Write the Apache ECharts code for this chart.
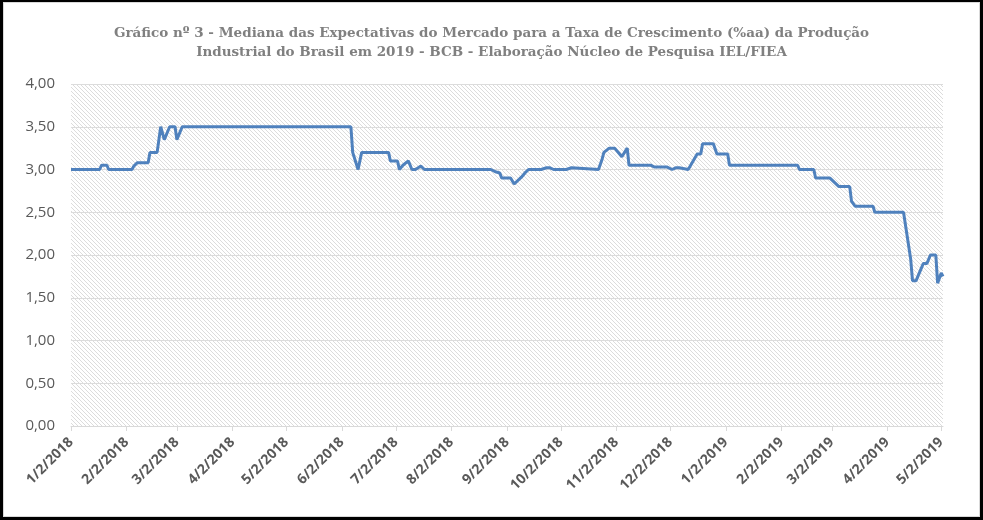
<!DOCTYPE html>
<html>
<head>
<meta charset="utf-8">
<script src="https://cdn.jsdelivr.net/npm/echarts@6/dist/echarts.min.js"></script>
<style>
  html, body { margin: 0; padding: 0; background: #fff; }
  #frame { position: absolute; left: 0; top: 0; width: 983px; height: 520px; background: #000; }
  #inner { position: absolute; left: 3px; top: 2px; width: 975px; height: 513px; background: #fff; border: 1px solid #d9d9d9; }
  #chart { position: absolute; left: 0; top: 0; width: 983px; height: 520px; }
</style>
</head>
<body>
<div id="frame"><div id="inner"></div></div>
<div id="chart"></div>
<script>
// ---- Data ----
const titleLines = [
  'Gráfico nº 3 - Mediana das Expectativas do Mercado para a Taxa de Crescimento (%aa) da Produção',
  'Industrial do Brasil em 2019 - BCB - Elaboração Núcleo de Pesquisa IEL/FIEA'
];
const tickLabels = ['1/2/2018','2/2/2018','3/2/2018','4/2/2018','5/2/2018','6/2/2018','7/2/2018','8/2/2018',
  '9/2/2018','10/2/2018','11/2/2018','12/2/2018','1/2/2019','2/2/2019','3/2/2019','4/2/2019','5/2/2019'];
const axisStart = '2018-01-02';
const axisEnd = '2019-05-03';
const dates = [
  '2018-01-02','2018-01-18','2018-01-19','2018-01-22','2018-01-23','2018-02-05','2018-02-06','2018-02-08',
  '2018-02-14','2018-02-15','2018-02-19','2018-02-21','2018-02-23','2018-02-26','2018-03-01','2018-03-02',
  '2018-03-05','2018-06-07','2018-06-08','2018-06-11','2018-06-13','2018-06-28','2018-06-29','2018-07-03',
  '2018-07-04','2018-07-06','2018-07-09','2018-07-11','2018-07-13','2018-07-16','2018-07-18','2018-08-24',
  '2018-08-27','2018-08-29','2018-08-30','2018-09-04','2018-09-06','2018-09-10','2018-09-12','2018-09-13',
  '2018-09-14','2018-09-21','2018-09-24','2018-09-26','2018-09-28','2018-10-05','2018-10-08','2018-10-09',
  '2018-10-23','2018-10-24','2018-10-25','2018-10-26','2018-10-29','2018-11-01','2018-11-05','2018-11-06',
  '2018-11-08','2018-11-09','2018-11-21','2018-11-23','2018-11-30','2018-12-03','2018-12-05','2018-12-07',
  '2018-12-12','2018-12-17','2018-12-19','2018-12-20','2018-12-26','2018-12-28','2019-01-03','2019-01-04',
  '2019-02-11','2019-02-12','2019-02-20','2019-02-21','2019-03-01','2019-03-06','2019-03-12','2019-03-13',
  '2019-03-15','2019-03-25','2019-03-26','2019-04-11','2019-04-15','2019-04-16','2019-04-18','2019-04-22',
  '2019-04-24','2019-04-26','2019-04-29','2019-04-30','2019-05-02','2019-05-03'
];
const values = [
  3.00,3.00,3.05,3.05,3.00,3.00,3.04,3.08,
  3.08,3.20,3.20,3.50,3.35,3.50,3.50,3.35,
  3.50,3.50,3.20,3.00,3.20,3.20,3.10,3.10,
  3.00,3.05,3.10,3.00,3.00,3.04,3.00,3.00,
  2.97,2.96,2.90,2.90,2.83,2.91,2.96,2.96,
  3.00,3.00,3.02,3.02,3.00,3.00,3.02,3.00,
  3.00,3.02,3.12,3.20,3.25,3.25,3.15,3.15,
  3.25,3.05,3.05,3.03,3.03,3.00,3.02,3.02,
  3.00,3.18,3.18,3.30,3.30,3.18,3.18,3.05,
  3.05,3.00,3.00,2.90,2.90,2.80,2.80,2.63,
  2.57,2.57,2.50,2.50,1.95,1.70,1.70,1.90,
  1.90,2.00,2.00,1.67,1.79,1.75
];

// ---- helpers ----
function isoToTs(s) { const p = s.split('-').map(Number); return Date.UTC(p[0], p[1]-1, p[2]); }
function mdyToTs(s) { const p = s.split('/').map(Number); return Date.UTC(p[2], p[0]-1, p[1]); }
const labelByTs = {};
tickLabels.forEach(l => { labelByTs[mdyToTs(l)] = l; });

const tickValues = tickLabels.map(mdyToTs);
const seriesData = dates.map((d, i) => [isoToTs(d), values[i]]);

// hatch pattern (light downward diagonal)
const pc = document.createElement('canvas');
pc.width = 8; pc.height = 8;
const g = pc.getContext('2d');
g.fillStyle = '#ffffff'; g.fillRect(0, 0, 8, 8);
g.fillStyle = '#dcdcdc';
for (let i = 0; i < 8; i++) { g.fillRect(i, i, 1, 1); g.fillRect(i, (i + 4) % 8, 1, 1); }

const chart = echarts.init(document.getElementById('chart'), null, { renderer: 'canvas' });
chart.setOption({
  backgroundColor: 'transparent',
  animation: false,
  title: {
    text: titleLines.join('\n'),
    left: 'center',
    top: 19,
    textStyle: {
      fontFamily: 'DejaVu Serif',
      fontWeight: 'bold',
      fontSize: 13.5,
      color: '#808080',
      lineHeight: 19
    }
  },
  grid: {
    left: 71, right: 40, top: 84, bottom: 94,
    show: true,
    borderWidth: 0,
    backgroundColor: { image: pc, repeat: 'repeat' }
  },
  xAxis: {
    type: 'value',
    min: isoToTs(axisStart),
    max: isoToTs(axisEnd),
    axisLine: { show: true, lineStyle: { color: '#d9d9d9', width: 1 } },
    axisTick: { show: true, customValues: tickValues, length: 5, lineStyle: { color: '#d9d9d9' } },
    axisLabel: {
      customValues: tickValues,
      formatter: v => labelByTs[v] || '',
      rotate: 45,
      margin: 14,
      fontFamily: 'Open Sans',
      fontWeight: 'bold',
      fontSize: 14,
      color: '#595959',
      hideOverlap: false
    },
    splitLine: { show: false }
  },
  yAxis: {
    type: 'value',
    min: 0, max: 4, interval: 0.5,
    axisLine: { show: false },
    axisTick: { show: false },
    axisLabel: {
      formatter: v => v.toFixed(2).replace('.', ','),
      fontFamily: 'Open Sans',
      fontSize: 15,
      color: '#595959',
      margin: 16
    },
    splitLine: { show: true, lineStyle: { color: '#dcdcdc', width: 1 } }
  },
  series: [{
    type: 'line',
    data: seriesData,
    symbol: 'none',
    lineStyle: { color: '#4f81bd', width: 3 },
    itemStyle: { color: '#4f81bd' }
  }]
});
</script>
</body>
</html>
